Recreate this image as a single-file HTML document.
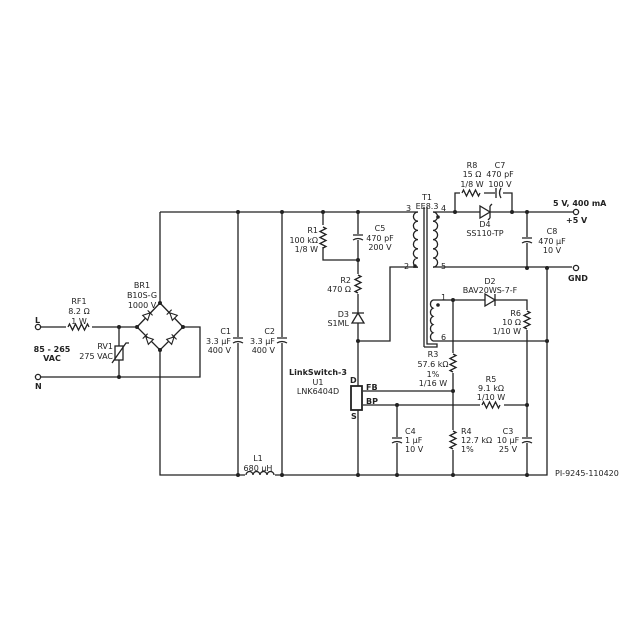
<!DOCTYPE html>
<html><head><meta charset="utf-8"><style>
html,body{margin:0;padding:0;background:#fff;}
svg{display:block;}
text{font-family:"DejaVu Sans","Liberation Sans",sans-serif;font-size:8px;fill:#222;}
.b{font-weight:bold;}
</style></head><body>
<svg width="640" height="640" viewBox="0 0 640 640" xmlns="http://www.w3.org/2000/svg">
<g stroke="#222" stroke-width="1.3" fill="none">
<path d="M160 212 H418"/>
<path d="M160 212 V303"/>
<path d="M160 350 V475 H547 V268"/>
<path d="M238 212 V475 M282 212 V475"/>
<path d="M323 212 V260 H358"/>
<path d="M358 212 V475"/>
<path d="M358 341 H390 V267 H413"/>
<path d="M41 327 H137 M41 377 H200 V327 H183 M119 327 V377"/>
<path d="M433 212 H575 M433 267 H572 M527 212 V268"/>
<path d="M455 212 V193 H512 V212"/>
<path d="M433 300 H527 V475 M433 341 H547 M453 300 V475"/>
<path d="M363 391 H453 M363 405 H527 M397 405 V475"/>
</g>
<g fill="#fff">
<rect x="66" y="322" width="26" height="10"/>
<rect x="318" y="225" width="10" height="22"/>
<rect x="353" y="274" width="10" height="20"/>
<rect x="448" y="353" width="10" height="20"/>
<rect x="448" y="430" width="10" height="20"/>
<rect x="522" y="310" width="10" height="20"/>
<rect x="480" y="400" width="24" height="10"/>
<rect x="460" y="188" width="24" height="10"/>
<rect x="245" y="470" width="30" height="10"/>
<rect x="234" y="337" width="10" height="6"/>
<rect x="278" y="337" width="10" height="6"/>
<rect x="354" y="234" width="10" height="6"/>
<rect x="523" y="237" width="10" height="6"/>
<rect x="393" y="437" width="10" height="6"/>
<rect x="523" y="437" width="10" height="6"/>
<rect x="495" y="188" width="8" height="10"/>
</g>
<g stroke="#222" stroke-width="1.3" fill="none">
<path d="M68 327 l1.5 -3 l3 6 l3 -6 l3 6 l3 -6 l3 6 l3 -6 l1.5 3"/>
<path d="M323 227 l3 1.5 l-6 3 l6 3 l-6 3 l6 3 l-6 3 l6 3 l-3 1.5"/>
<path d="M358 275 l3 1.5 l-6 3 l6 3 l-6 3 l6 3 l-6 3 l3 1.5"/>
<path d="M453 354 l3 1.5 l-6 3 l6 3 l-6 3 l6 3 l-6 3 l3 1.5"/>
<path d="M453 431 l3 1.5 l-6 3 l6 3 l-6 3 l6 3 l-6 3 l3 1.5"/>
<path d="M527 311 l3 1.5 l-6 3 l6 3 l-6 3 l6 3 l-6 3 l3 1.5"/>
<path d="M482 405 l1.5 -3 l3 6 l3 -6 l3 6 l3 -6 l3 6 l1.5 -3"/>
<path d="M462 193 l1.5 -3 l3 6 l3 -6 l3 6 l3 -6 l3 6 l1.5 -3"/>
<path d="M233 338 h10 M233 343 q5 -3 10 0"/>
<path d="M277 338 h10 M277 343 q5 -3 10 0"/>
<path d="M353 235 h10 M353 240 q5 -3 10 0"/>
<path d="M522 238 h10 M522 243 q5 -3 10 0"/>
<path d="M392 438 h10 M392 443 q5 -3 10 0"/>
<path d="M522 438 h10 M522 443 q5 -3 10 0"/>
<path d="M496 188 v10 M501 188 q-3 5 0 10"/>
<path d="M246 475 a3 3 0 0 1 7 0 a3 3 0 0 1 7 0 a3 3 0 0 1 7 0 a3 3 0 0 1 7 0"/>
<rect x="115" y="346" width="8" height="14" fill="#fff"/>
<path d="M112 363 l14 -20 l3 0"/>
<path d="M137 327 L160 303 L183 327 L160 350 Z"/>
<path d="M352 323 h12 l-6 -10 z M352 313 h12" fill="#fff"/>
<path d="M480 206 v12 l10 -6 z" fill="#fff"/>
<path d="M490 206 v12 M490 206 l2 -2 M490 218 l-2 2"/>
<path d="M485 294 v12 l10 -6 z M495 294 v12" fill="#fff"/>
<rect x="351" y="386" width="11" height="24" fill="#fff" stroke-width="1.8"/>
<path d="M418 212 a4.6 4.6 0 0 0 0 9.2 a4.6 4.6 0 0 0 0 9.2 a4.6 4.6 0 0 0 0 9.2 a4.6 4.6 0 0 0 0 9.2 a4.6 4.6 0 0 0 0 9.2 a4.6 4.6 0 0 0 0 9.2 h-5"/>
<path d="M433 212 a4.6 4.6 0 0 1 0 9.2 a4.6 4.6 0 0 1 0 9.2 a4.6 4.6 0 0 1 0 9.2 a4.6 4.6 0 0 1 0 9.2 a4.6 4.6 0 0 1 0 9.2 a4.6 4.6 0 0 1 0 9.2"/>
<path d="M433 300 a4.6 4.6 0 0 0 0 8.2 a4.6 4.6 0 0 0 0 8.2 a4.6 4.6 0 0 0 0 8.2 a4.6 4.6 0 0 0 0 8.2 a4.6 4.6 0 0 0 0 8.2"/>
<path d="M424 207 V347 M427 207 V344 H437 V347 H424"/>
</g>
<g fill="#fff" stroke="#222" stroke-width="1.1">
<g transform="translate(148,315) rotate(-45)"><path d="M-4 -3.5 v7 l7 -3.5 z M3 -3.5 v7"/></g>
<g transform="translate(172,315) rotate(45)"><path d="M4 -3.5 v7 l-7 -3.5 z M-4 -3.5 v7"/></g>
<g transform="translate(148,339) rotate(45)"><path d="M4 -3.5 v7 l-7 -3.5 z M-4 -3.5 v7"/></g>
<g transform="translate(172,339) rotate(-45)"><path d="M-4 -3.5 v7 l7 -3.5 z M3 -3.5 v7"/></g>
</g>
<g fill="#222">
<circle cx="238" cy="212" r="2"/><circle cx="282" cy="212" r="2"/><circle cx="323" cy="212" r="2"/><circle cx="358" cy="212" r="2"/>
<circle cx="358" cy="260" r="2"/><circle cx="358" cy="341" r="2"/>
<circle cx="119" cy="327" r="2"/><circle cx="119" cy="377" r="2"/>
<circle cx="137" cy="327" r="2"/><circle cx="183" cy="327" r="2"/><circle cx="160" cy="303" r="2"/><circle cx="160" cy="350" r="2"/>
<circle cx="238" cy="475" r="2"/><circle cx="282" cy="475" r="2"/><circle cx="358" cy="475" r="2"/><circle cx="397" cy="475" r="2"/><circle cx="453" cy="475" r="2"/><circle cx="527" cy="475" r="2"/>
<circle cx="455" cy="212" r="2"/><circle cx="512" cy="212" r="2"/><circle cx="527" cy="212" r="2"/>
<circle cx="527" cy="268" r="2"/><circle cx="547" cy="268" r="2"/><circle cx="547" cy="341" r="2"/>
<circle cx="453" cy="300" r="2"/><circle cx="453" cy="391" r="2"/><circle cx="397" cy="405" r="2"/><circle cx="527" cy="405" r="2"/>
<circle cx="415" cy="266" r="1.8"/><circle cx="438" cy="217" r="1.8"/><circle cx="438" cy="305" r="1.8"/>
</g>
<g fill="#fff" stroke="#222" stroke-width="1.3">
<circle cx="38" cy="327" r="2.6"/><circle cx="38" cy="377" r="2.6"/>
<circle cx="576" cy="212" r="2.6"/><circle cx="576" cy="268" r="2.6"/>
</g>
<g text-anchor="middle">
<text x="142" y="288">BR1</text><text x="142" y="298">B10S-G</text><text x="142" y="308">1000 V</text>
<text x="79" y="304">RF1</text><text x="79" y="314">8.2 Ω</text><text x="79" y="324">1 W</text>
<text x="258" y="461">L1</text><text x="258" y="471">680 µH</text>
<text x="318" y="375" class="b">LinkSwitch-3</text><text x="318" y="385">U1</text><text x="318" y="394">LNK6404D</text>
<text x="427" y="200">T1</text><text x="427" y="209">EE8.3</text>
<text x="472" y="168">R8</text><text x="472" y="177">15 Ω</text><text x="472" y="187">1/8 W</text>
<text x="500" y="168">C7</text><text x="500" y="177">470 pF</text><text x="500" y="187">100 V</text>
<text x="485" y="227">D4</text><text x="485" y="236">SS110-TP</text>
<text x="552" y="234">C8</text><text x="552" y="244">470 µF</text><text x="552" y="253">10 V</text>
<text x="490" y="284">D2</text><text x="490" y="293">BAV20WS-7-F</text>
<text x="433" y="357">R3</text><text x="433" y="367">57.6 kΩ</text><text x="433" y="377">1%</text><text x="433" y="386">1/16 W</text>
<text x="491" y="382">R5</text><text x="491" y="391">9.1 kΩ</text><text x="491" y="400">1/10 W</text>
<text x="508" y="434">C3</text><text x="508" y="443">10 µF</text><text x="508" y="452">25 V</text>
<text x="380" y="231">C5</text><text x="380" y="241">470 pF</text><text x="380" y="250">200 V</text>
<text x="52" y="352" class="b">85 - 265</text><text x="52" y="361" class="b">VAC</text>
</g>
<g text-anchor="end">
<text x="113" y="349">RV1</text><text x="113" y="359">275 VAC</text>
<text x="231" y="334">C1</text><text x="231" y="344">3.3 µF</text><text x="231" y="353">400 V</text>
<text x="275" y="334">C2</text><text x="275" y="344">3.3 µF</text><text x="275" y="353">400 V</text>
<text x="318" y="233">R1</text><text x="318" y="243">100 kΩ</text><text x="318" y="252">1/8 W</text>
<text x="351" y="283">R2</text><text x="351" y="292">470 Ω</text>
<text x="349" y="317">D3</text><text x="349" y="326">S1ML</text>
<text x="521" y="316">R6</text><text x="521" y="325">10 Ω</text><text x="521" y="334">1/10 W</text>
</g>
<text x="405" y="434">C4</text><text x="405" y="443">1 µF</text><text x="405" y="452">10 V</text>
<text x="461" y="434">R4</text><text x="461" y="443">12.7 kΩ</text><text x="461" y="452">1%</text>
<text x="35" y="323" class="b">L</text><text x="35" y="389" class="b">N</text>
<text x="553" y="206" class="b">5 V, 400 mA</text><text x="566" y="223" class="b">+5 V</text><text x="568" y="281" class="b">GND</text>
<text x="406" y="211" font-size="7">3</text><text x="441" y="211" font-size="7">4</text>
<text x="404" y="269" font-size="7">2</text><text x="441" y="269" font-size="7">5</text>
<text x="441" y="300" font-size="7">1</text><text x="441" y="340" font-size="7">6</text>
<text x="350" y="383" class="b" font-size="7">D</text><text x="366" y="390" class="b" font-size="7">FB</text>
<text x="366" y="404" class="b" font-size="7">BP</text><text x="351" y="419" class="b" font-size="7">S</text>
<text x="555" y="476" font-size="6.5">PI-9245-110420</text>
</svg>
</body></html>
